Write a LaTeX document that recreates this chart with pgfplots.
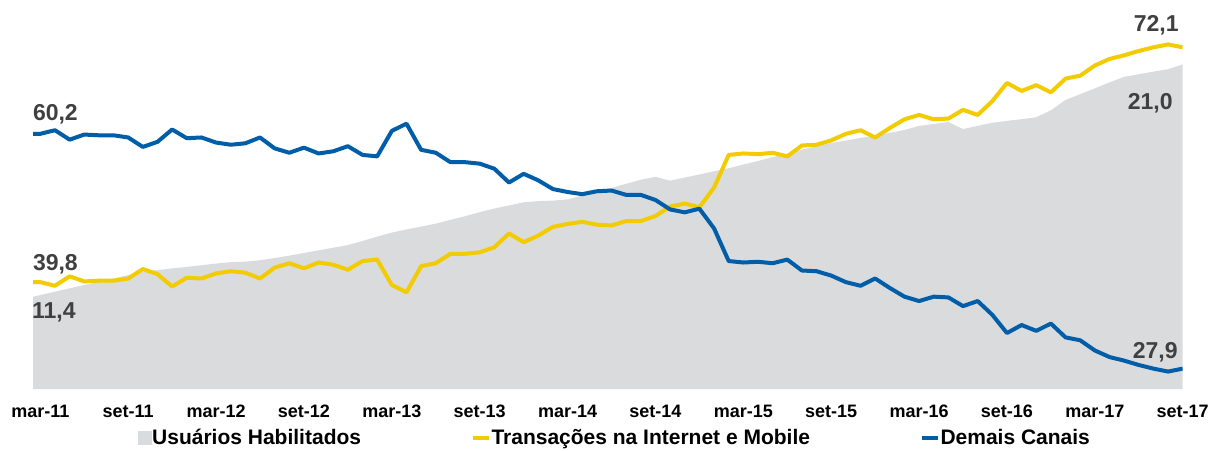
\documentclass[border=0pt]{standalone}
\usepackage{pgfplots}
\pgfplotsset{compat=1.18}
\usepackage{pgfplotstable}
\usepackage{fontspec}
\setmainfont{Liberation Sans}
\definecolor{cblue}{RGB}{0,94,168}
\definecolor{cyel}{RGB}{242,204,0}
\definecolor{cgray}{RGB}{218,219,221}
\definecolor{ctxt}{RGB}{64,64,64}

\pgfplotstableread{
i area internet demais
-1 11.26 39.8 60.2
0 11.40 39.8 60.2
1 11.54 39.3 60.7
2 11.68 40.6 59.4
3 11.82 39.9 60.1
4 11.95 40.0 60.0
5 12.09 40.0 60.0
6 12.23 40.3 59.7
7 12.37 41.6 58.4
8 12.44 40.9 59.1
9 12.51 39.2 60.8
10 12.57 40.4 59.6
11 12.64 40.3 59.7
12 12.71 41.0 59.0
13 12.77 41.3 58.7
14 12.79 41.1 58.9
15 12.85 40.3 59.7
16 12.94 41.8 58.2
17 13.04 42.4 57.6
18 13.15 41.7 58.3
19 13.26 42.5 57.5
20 13.37 42.2 57.8
21 13.48 41.5 58.5
22 13.65 42.7 57.3
23 13.83 42.9 57.1
24 14.00 39.4 60.6
25 14.13 38.4 61.6
26 14.25 42.0 58.0
27 14.37 42.4 57.6
28 14.53 43.7 56.3
29 14.68 43.7 56.3
30 14.85 43.9 56.1
31 15.00 44.6 55.4
32 15.13 46.5 53.5
33 15.26 45.3 54.7
34 15.31 46.2 53.8
35 15.33 47.4 52.6
36 15.38 47.8 52.2
37 15.54 48.1 51.9
38 15.70 47.7 52.3
39 15.86 47.6 52.4
40 16.03 48.2 51.8
41 16.20 48.2 51.8
42 16.32 48.9 51.1
43 16.16 50.2 49.8
44 16.29 50.6 49.4
45 16.42 50.1 49.9
46 16.55 52.8 47.2
47 16.68 57.3 42.7
48 16.83 57.5 42.5
49 16.98 57.4 42.6
50 17.14 57.6 42.4
51 17.29 57.1 42.9
52 17.45 58.6 41.4
53 17.60 58.7 41.3
54 17.73 59.3 40.7
55 17.83 60.2 39.8
56 17.94 60.7 39.3
57 18.04 59.7 40.3
58 18.15 61.0 39.0
59 18.27 62.2 37.8
60 18.44 62.8 37.2
61 18.52 62.2 37.8
62 18.60 62.3 37.7
63 18.31 63.5 36.5
64 18.44 62.8 37.2
65 18.57 64.7 35.3
66 18.65 67.2 32.8
67 18.72 66.1 33.9
68 18.80 66.9 33.1
69 19.09 65.9 34.1
70 19.52 67.8 32.2
71 19.76 68.2 31.8
72 20.00 69.6 30.4
73 20.25 70.5 29.5
74 20.48 71.0 29.0
75 20.59 71.6 28.4
76 20.70 72.1 27.9
77 20.80 72.5 27.5
78 21.00 72.1 27.9
}\data

\begin{document}
\begin{tikzpicture}[x=1pt,y=1pt]
\path[use as bounding box] (0,0) rectangle (605,225);
% area axis (right scale, hidden)
\begin{axis}[
  at={(16.5pt,30.5pt)}, anchor=south west,
  width=574.85pt, height=194.5pt, scale only axis,
  xmin=-0.5, xmax=78, ymin=7.49, ymax=23.68,
  axis line style={draw=none}, xtick=\empty, ytick=\empty,
]
\addplot[fill=cgray, draw=none] table[x=i,y=area]{\data} \closedcycle;
\end{axis}
% lines axis
\begin{axis}[
  at={(16.5pt,30.5pt)}, anchor=south west,
  width=574.85pt, height=194.5pt, scale only axis,
  xmin=-0.5, xmax=78, ymin=25.1, ymax=78.61,
  clip mode=individual,
  axis line style={draw=none}, ytick=\empty,
  xtick={0,6,...,78},
  xticklabels={mar-11,set-11,mar-12,set-12,mar-13,set-13,mar-14,set-14,mar-15,set-15,mar-16,set-16,mar-17,set-17},
  major tick length=0pt,
  xticklabel style={font=\fontsize{9}{10}\selectfont\bfseries, anchor=north, inner sep=0pt, yshift=-8pt},
  legend columns=3,
  legend style={draw=none, fill=none, at={(0.5055,-0.126)}, anchor=center,
    font=\fontsize{10.5}{12}\selectfont\bfseries, inner sep=0pt,
    nodes={inner sep=0.1pt},
    /tikz/every odd column/.append style={column sep=0pt},
    /tikz/every even column/.append style={column sep=55pt}},
]
\addlegendimage{legend image code/.code={\fill[cgray] (0pt,-3.3pt) rectangle (6.5pt,3.3pt);}}
\addlegendentry{Usuários Habilitados}
\addplot[color=cyel, line width=2pt, line join=round,
  legend image code/.code={\draw[cyel, line width=2pt] (0pt,0pt) -- (8pt,0pt);}]
  table[x=i,y=internet]{\data};
\addlegendentry{Transações na Internet e Mobile}
\addplot[color=cblue, line width=2pt, line join=round,
  legend image code/.code={\draw[cblue, line width=2pt] (0pt,0pt) -- (8pt,0pt);}]
  table[x=i,y=demais]{\data};
\addlegendentry{Demais Canais}
\begin{scope}[every node/.style={font=\fontsize{11.5}{12}\selectfont\bfseries, text=ctxt, inner sep=0pt}]
\node[anchor=base west] at (axis cs:-0.526,62.04) {60,2};
\node[anchor=base west] at (axis cs:-0.526,41.38) {39,8};
\node[anchor=base west] at (axis cs:-0.59,34.73) {11,4};
\node[anchor=base east] at (axis cs:77.75,74.25) {72,1};
\node[anchor=base east] at (axis cs:77.34,63.48) {21,0};
\node[anchor=base east] at (axis cs:77.68,29.33) {27,9};
\end{scope}
\end{axis}
\end{tikzpicture}
\end{document}
